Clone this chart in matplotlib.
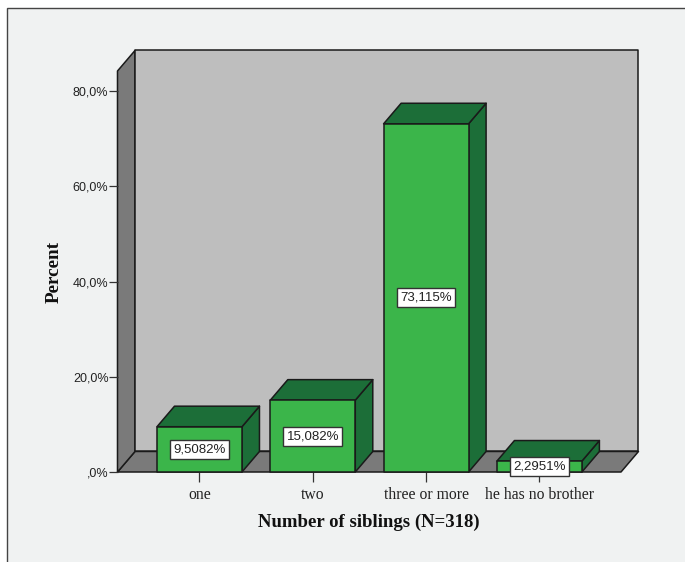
import matplotlib
matplotlib.use('Agg')
import matplotlib.pyplot as plt
from matplotlib.patches import Polygon, Rectangle

categories = ['one', 'two', 'three or more', 'he has no brother']
percents = [9.5082, 15.082, 73.115, 2.2951]
value_labels = ['9,5082%', '15,082%', '73,115%', '2,2951%']
y_ticks = [0, 20, 40, 60, 80]
y_tick_labels = [',0%', '20,0%', '40,0%', '60,0%', '80,0%']

W, H = 685, 562
BAR_WIDTH = 0.75
# offset of the back plane, in data units
DX = 0.1544
DY = 4.31
XMIN, XMAX = -0.7235, 3.72
YMAX = 84.2

FRONT = '#3bb54a'
DARK = '#1c6e38'
WALL = '#bebebe'
SIDE = '#7a7a7a'
EDGE = '#1a1a1a'
SERIF = 'Liberation Serif'
SANS = 'Liberation Sans'

fig = plt.figure(figsize=(W / 100, H / 100), dpi=100, facecolor='white')

# panel behind the chart, its left and top edges show
fig.add_artist(Rectangle((6.5 / W, -0.1), 1.0, 1 - 7.5 / H + 0.1,
                         transform=fig.transFigure, facecolor='#f0f2f2',
                         edgecolor='#444444', linewidth=1.0, zorder=-1))

ax = fig.add_axes([117.5 / W, 1 - 472 / H, (621 - 117.5) / W, (472 - 71) / H])
ax.set_xlim(XMIN, XMAX)
ax.set_ylim(0, YMAX)
ax.patch.set_visible(False)
for s in ax.spines.values():
    s.set_visible(False)


def poly(points, color, z):
    ax.add_patch(Polygon(points, closed=True, facecolor=color, edgecolor=EDGE,
                         linewidth=1.1, joinstyle='round', zorder=z, clip_on=False))


# floor, left wall and back wall
poly([(XMIN, 0), (XMAX, 0), (XMAX + DX, DY), (XMIN + DX, DY)], SIDE, 1)
poly([(XMIN, 0), (XMIN + DX, DY), (XMIN + DX, YMAX + DY), (XMIN, YMAX)], SIDE, 1)
poly([(XMIN + DX, DY), (XMAX + DX, DY), (XMAX + DX, YMAX + DY), (XMIN + DX, YMAX + DY)], WALL, 1)

# 3d bars
for i, v in enumerate(percents):
    x0 = i - BAR_WIDTH / 2
    x1 = i + BAR_WIDTH / 2
    poly([(x1, 0), (x1 + DX, DY), (x1 + DX, v + DY), (x1, v)], DARK, 2)
    poly([(x0, v), (x1, v), (x1 + DX, v + DY), (x0 + DX, v + DY)], DARK, 2)
    poly([(x0, 0), (x1, 0), (x1, v), (x0, v)], FRONT, 3)
    ax.text(i, v / 2, value_labels[i], ha='center', va='center', fontsize=9.5,
            family=SANS, color='#222222', zorder=5,
            bbox=dict(boxstyle='square,pad=0.26', facecolor='white',
                      edgecolor='#333333', linewidth=1.0))

ax.set_xticks(range(len(categories)))
ax.set_xticklabels(categories, family=SERIF, fontsize=11.3, color='#222222')
ax.set_yticks(y_ticks)
ax.set_yticklabels(y_tick_labels, family=SANS, fontsize=9, color='#222222')
ax.tick_params(axis='x', length=7, width=0.9, color='#333333', pad=3.8)
ax.tick_params(axis='y', length=6.5, width=0.9, color='#333333', pad=0)

fig.text(369 / W, 1 - 522 / H, 'Number of siblings (N=318)', family=SERIF,
         fontweight='bold', fontsize=13.5, color='#111111', ha='center', va='center')
fig.text(54 / W, 1 - 272 / H, 'Percent', family=SERIF, fontweight='bold',
         fontsize=13.8, color='#111111', rotation=90, ha='center', va='center')

fig.savefig('out.png', dpi=100)
